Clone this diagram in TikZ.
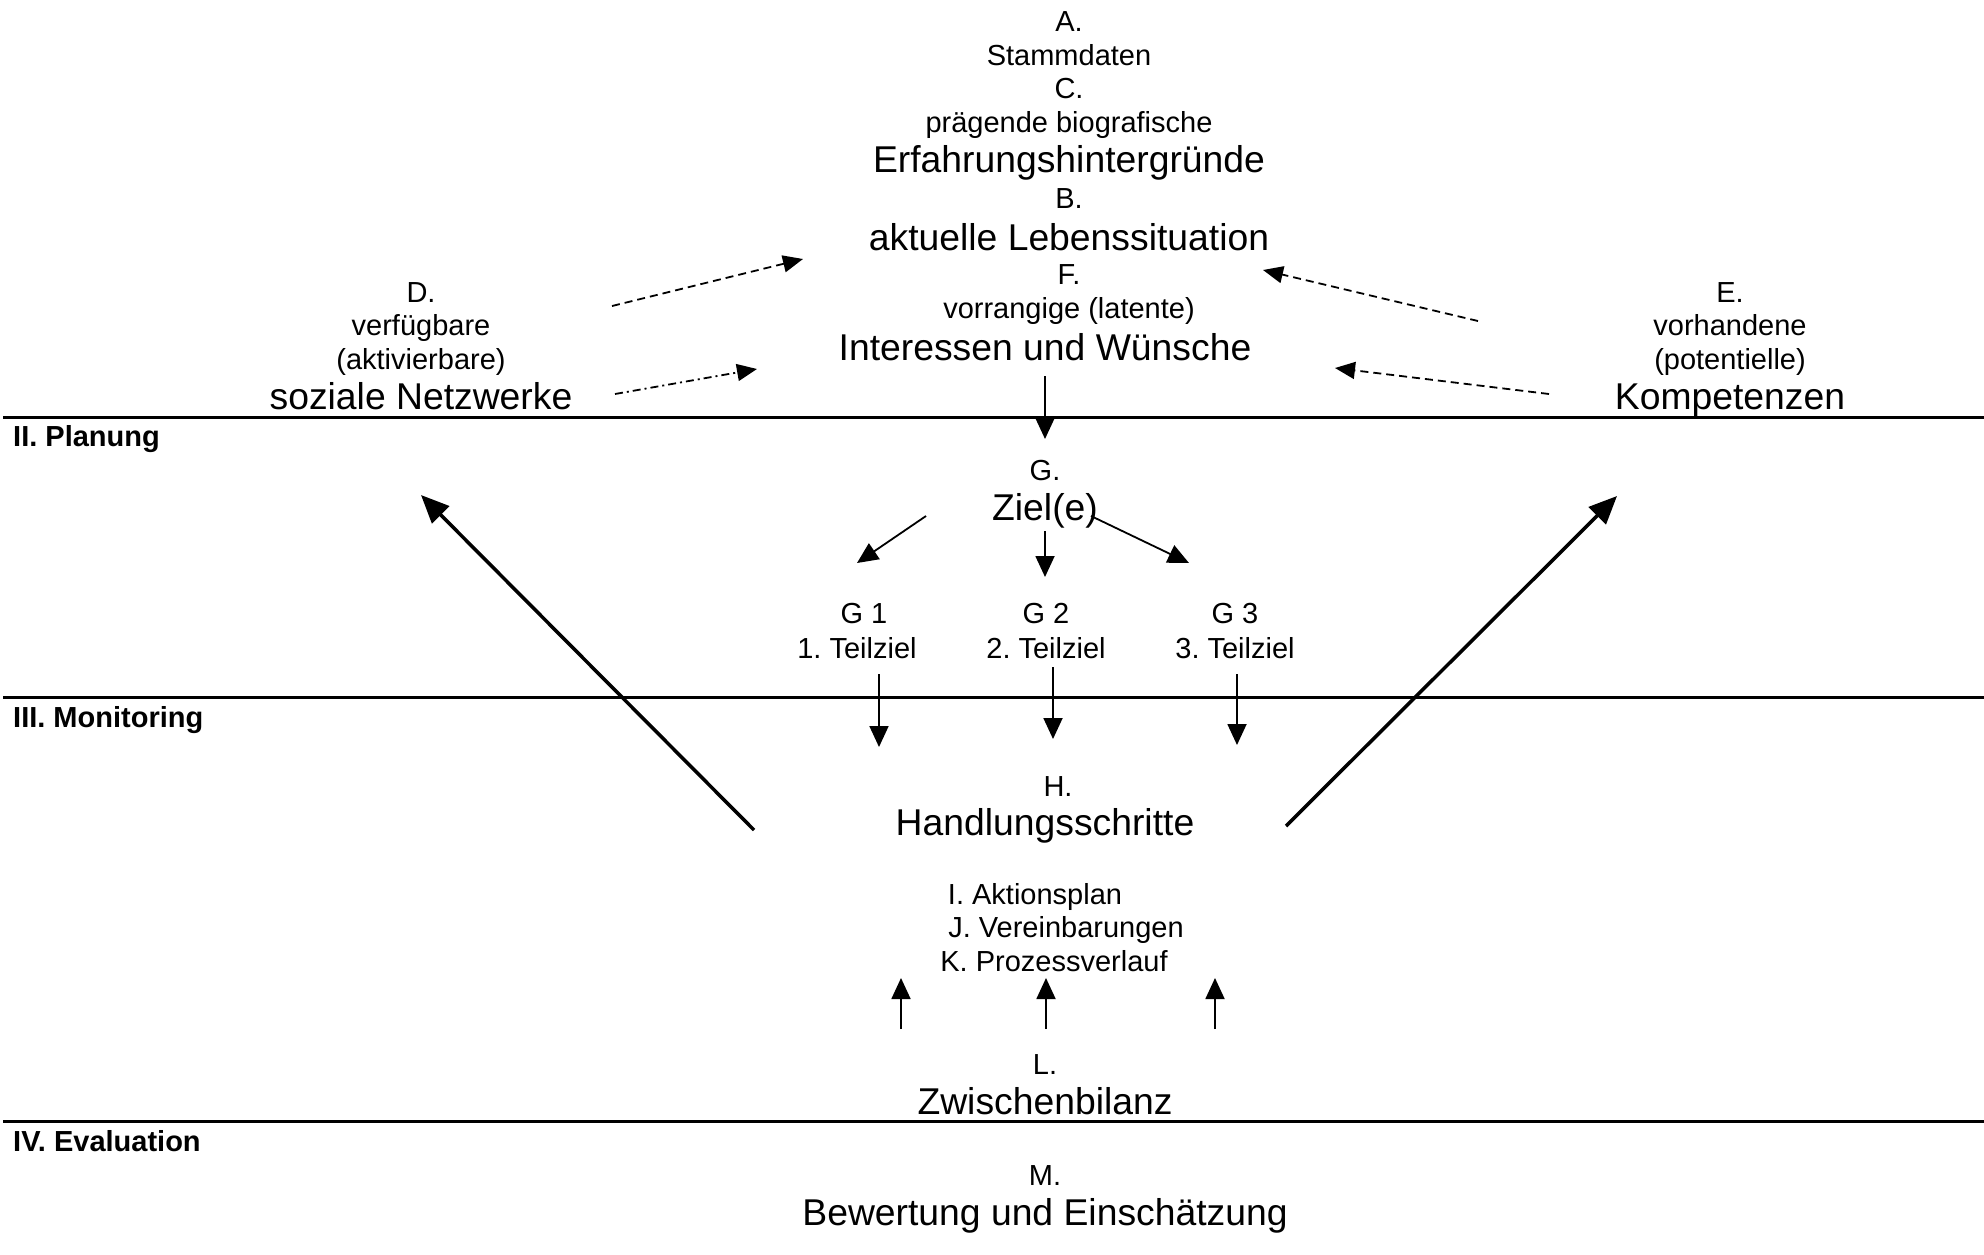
\documentclass[tikz,border=0pt]{standalone}
\usepackage{fontspec}
\setmainfont{Liberation Sans}
\usetikzlibrary{arrows.meta}
\newcommand{\fsS}{\fontsize{29}{34}\selectfont}
\newcommand{\fsL}{\fontsize{37.3}{44}\selectfont}
\newcommand{\fsB}{\fontsize{29}{34}\selectfont\bfseries}
\frenchspacing
\begin{document}
\begin{tikzpicture}[x=1pt,y=-1pt,
  lbl/.style={inner sep=0pt, text height=0.72em, text depth=0pt, font=\fsS, yshift=-7.5pt},
  big/.style={inner sep=0pt, text height=0.72em, text depth=0pt, font=\fsL, yshift=-10pt},
  sec/.style={anchor=west, inner sep=0pt, text height=0.72em, text depth=0pt, font=\fsB, yshift=-7.5pt},
  arr/.style={-{Triangle[length=21pt,width=19pt]}, line width=1.8pt},
  dsh/.style={-{Triangle[length=20pt,width=17pt]}, line width=1.8pt, dash pattern=on 8pt off 5pt},
  dshdot/.style={-{Triangle[length=20pt,width=17pt]}, line width=1.8pt, dash pattern=on 8pt off 4pt on 2pt off 4pt},
  bigarr/.style={-{Triangle[length=28pt,width=24pt]}, line width=3.5pt},
  sepline/.style={line width=3pt}
]
\useasboundingbox (0,0) rectangle (1984,1254);

% separator lines
\coordinate (l1a) at (3,417); \coordinate (l1b) at (1984,417);
\coordinate (l2a) at (3,697); \coordinate (l2b) at (1984,697);
\coordinate (l3a) at (3,1121); \coordinate (l3b) at (1984,1121);
\draw[sepline] (l1a) -- (l1b);
\draw[sepline] (l2a) -- (l2b);
\draw[sepline] (l3a) -- (l3b);

% section labels
\node[sec] (secII) at (13,435) {II. Planung};
\node[sec] (secIII) at (13,716) {III. Monitoring};
\node[sec] (secIV) at (13,1140) {IV. Evaluation};

% central top block
\node[lbl] (A) at (1069,20) {A.};
\node[lbl] (stamm) at (1069,54) {Stammdaten};
\node[lbl] (C) at (1069,87) {C.};
\node[lbl] (praeg) at (1069,121) {prägende biografische};
\node[big] (erf) at (1069,159) {Erfahrungshintergründe};
\node[lbl] (B) at (1069,197) {B.};
\node[big] (akt) at (1069,237) {aktuelle Lebenssituation};
\node[lbl] (F) at (1069,273) {F.};
\node[lbl] (vorr) at (1069,307) {vorrangige (latente)};
\node[big] (int) at (1045,347) {Interessen und Wünsche};

% D block
\node[lbl] (D) at (421,291) {D.};
\node[lbl] (verf) at (421,324) {verfügbare};
\node[lbl] (aktiv) at (421,358) {(aktivierbare)};
\node[big] (soz) at (421,396) {soziale Netzwerke};

% E block
\node[lbl] (E) at (1730,291) {E.};
\node[lbl] (vorh) at (1730,324) {vorhandene};
\node[lbl] (pot) at (1730,358) {(potentielle)};
\node[big] (komp) at (1730,396) {Kompetenzen};

% G block
\node[lbl] (G) at (1045,469) {G.};
\node[big] (ziel) at (1045,507) {Ziel(e)};
\node[lbl] (G1) at (864,612) {G 1};
\node[lbl] (T1) at (857,647) {1. Teilziel};
\node[lbl] (G2) at (1046,612) {G 2};
\node[lbl] (T2) at (1046,647) {2. Teilziel};
\node[lbl] (G3) at (1235,612) {G 3};
\node[lbl] (T3) at (1235,647) {3. Teilziel};

% H block
\node[lbl] (H) at (1058,785) {H.};
\node[big] (hand) at (1045,822) {Handlungsschritte};
\node[lbl] (I) at (1035,893) {I. Aktionsplan};
\node[lbl] (J) at (1066,926) {J. Vereinbarungen};
\node[lbl] (K) at (1054,960) {K. Prozessverlauf};

% L block
\node[lbl] (L) at (1045,1063) {L.};
\node[big] (zw) at (1045,1101) {Zwischenbilanz};

% M block
\node[lbl] (M) at (1045,1174) {M.};
\node[big] (bew) at (1045,1212) {Bewertung und Einschätzung};

% connector end coordinates
\coordinate (dUs) at (612,306); \coordinate (dUe) at (803,259);
\coordinate (dLs) at (615,394); \coordinate (dLe) at (757,369);
\coordinate (eUs) at (1478,321); \coordinate (eUe) at (1263,270);
\coordinate (eLs) at (1549,394); \coordinate (eLe) at (1335,368);
\coordinate (fS) at (1045,376); \coordinate (fE) at (1045,439);
\coordinate (zLs) at (926,516); \coordinate (zLe) at (857,563);
\coordinate (zMs) at (1045,531); \coordinate (zMe) at (1045,577);
\coordinate (zRs) at (1091,516); \coordinate (zRe) at (1189,563);
\coordinate (t1s) at (879,674); \coordinate (t1e) at (879,747);
\coordinate (t2s) at (1053,667); \coordinate (t2e) at (1053,739);
\coordinate (t3s) at (1237,674); \coordinate (t3e) at (1237,745);
\coordinate (bLs) at (754,830); \coordinate (bLe) at (421,495);
\coordinate (bRs) at (1286,826); \coordinate (bRe) at (1617,496);
\coordinate (u1s) at (901,1029); \coordinate (u1e) at (901,978);
\coordinate (u2s) at (1046,1029); \coordinate (u2e) at (1046,978);
\coordinate (u3s) at (1215,1029); \coordinate (u3e) at (1215,978);

% dashed arrows
\draw[dsh] (dUs) -- (dUe);
\draw[dshdot] (dLs) -- (dLe);
\draw[dsh] (eUs) -- (eUe);
\draw[dsh] (eLs) -- (eLe);

% solid arrows
\draw[arr] (fS) -- (fE);
\draw[arr] (zLs) -- (zLe);
\draw[arr] (zMs) -- (zMe);
\draw[arr] (zRs) -- (zRe);
\draw[arr] (t1s) -- (t1e);
\draw[arr] (t2s) -- (t2e);
\draw[arr] (t3s) -- (t3e);
\draw[arr] (u1s) -- (u1e);
\draw[arr] (u2s) -- (u2e);
\draw[arr] (u3s) -- (u3e);

% big diagonal arrows
\draw[bigarr] (bLs) -- (bLe);
\draw[bigarr] (bRs) -- (bRe);
\end{tikzpicture}
\end{document}
